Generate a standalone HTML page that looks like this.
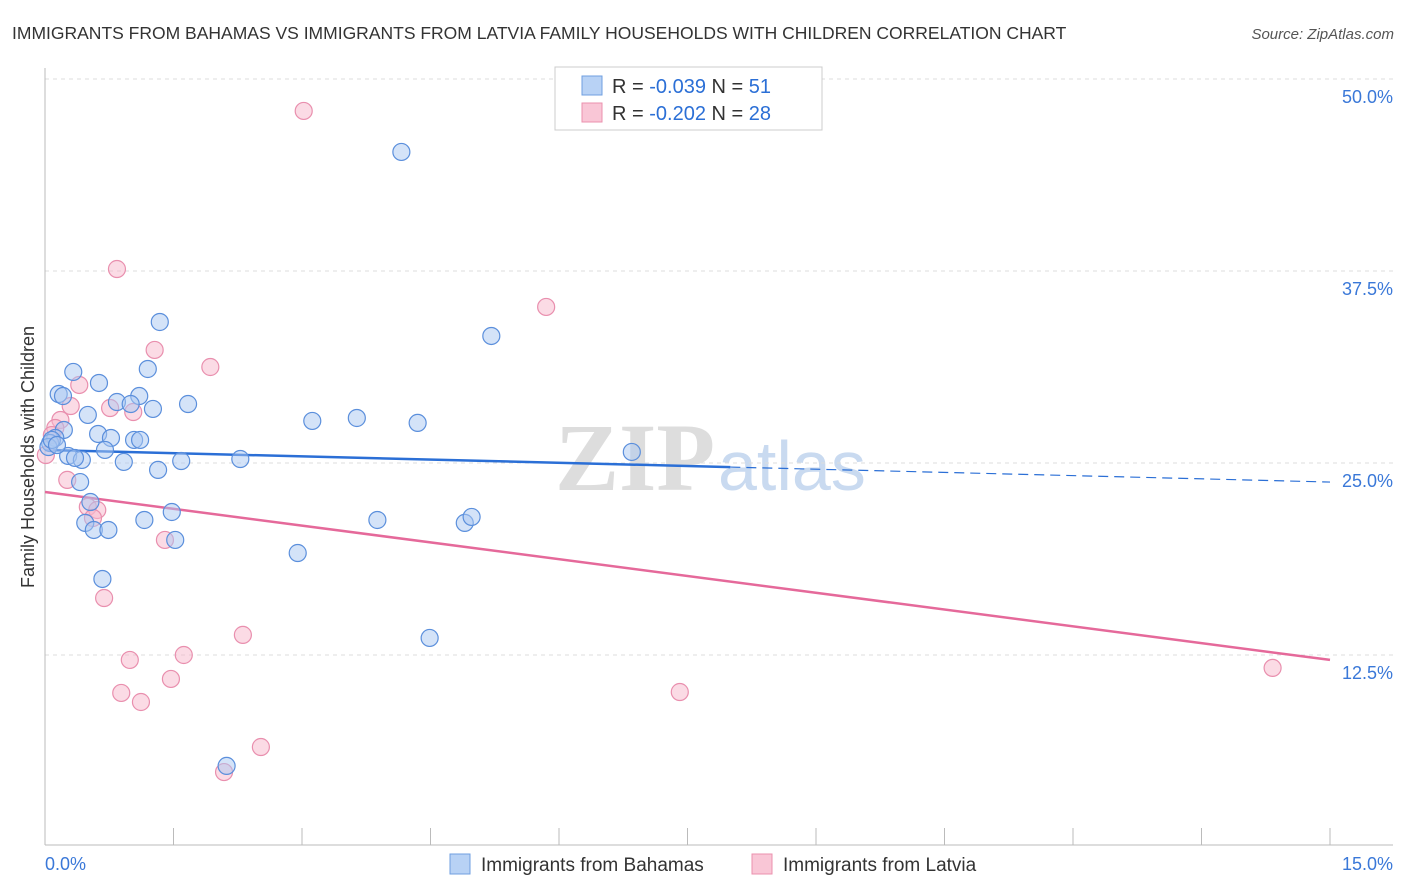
<!DOCTYPE html>
<html><head><meta charset="utf-8"><style>
body{margin:0;background:#fff;font-family:"Liberation Sans",sans-serif;}
svg{display:block}
</style></head><body>
<svg id="chart" width="1406" height="892" viewBox="0 0 1406 892" xmlns="http://www.w3.org/2000/svg">
<text x="12" y="39" font-size="17.5" fill="#333">IMMIGRANTS FROM BAHAMAS VS IMMIGRANTS FROM LATVIA FAMILY HOUSEHOLDS WITH CHILDREN CORRELATION CHART</text>
<text x="1394" y="39" font-size="15" fill="#555" text-anchor="end" font-style="italic">Source: ZipAtlas.com</text>
<g>
<text x="555" y="490" font-size="96" fill="#ddd" font-family="Liberation Serif,serif" font-weight="bold">ZIP</text>
<text x="718" y="490" font-size="70" fill="#c9daf0">atlas</text>
</g>
<g id="grid"></g>
<g id="axes"></g>
<g id="trends"></g>
<g id="points"></g>
<text transform="translate(34,457) rotate(-90)" font-size="18" fill="#333" text-anchor="middle">Family Households with Children</text>
<g>
<rect x="555" y="67" width="267" height="63" fill="#fff" stroke="#ccc"/>
<rect x="582" y="76" width="20" height="19" fill="#b8d2f5" stroke="#6f9fe0"/>
<rect x="582" y="103" width="20" height="19" fill="#f9c6d6" stroke="#eb90ae"/>
<text x="612" y="93" font-size="20" fill="#333">R = <tspan fill="#2b6fd6">-0.039</tspan>   N = <tspan fill="#2b6fd6"> 51</tspan></text>
<text x="612" y="120" font-size="20" fill="#333">R = <tspan fill="#2b6fd6">-0.202</tspan>   N = <tspan fill="#2b6fd6">28</tspan></text>
</g>
<g>
<rect x="450" y="854" width="20" height="20" fill="#b8d2f5" stroke="#6f9fe0"/>
<text x="481" y="871" font-size="19" fill="#333">Immigrants from Bahamas</text>
<rect x="752" y="854" width="20" height="20" fill="#f9c6d6" stroke="#eb90ae"/>
<text x="783" y="871" font-size="19" fill="#333">Immigrants from Latvia</text>
</g>
</svg>
<script>
const blueX=[4.16,5.21,1.34,0.33,1.20,0.63,0.16,0.21,0.84,1.10,1.00,1.26,1.67,0.50,3.12,3.64,4.35,0.22,0.62,0.77,1.04,1.11,0.12,0.06,0.04,0.27,0.43,0.70,0.92,1.32,1.59,2.28,6.85,0.41,0.53,0.47,1.16,1.48,0.57,0.74,1.52,3.88,4.90,4.98,2.95,0.67,4.49,2.12,0.08,0.14,0.35];
const blueY=[45.25,33.27,34.18,30.93,31.12,30.21,29.49,29.36,28.97,29.36,28.84,28.52,28.84,28.13,27.74,27.93,27.61,27.15,26.89,26.63,26.50,26.50,26.63,26.30,26.04,25.46,25.20,25.85,25.07,24.55,25.13,25.26,25.72,23.76,22.46,21.10,21.29,21.81,20.64,20.64,19.99,21.29,21.10,21.49,19.14,17.45,13.61,5.28,26.5,26.17,25.33];
const pinkX=[3.02,0.84,5.85,1.28,1.93,0.40,0.30,0.76,1.03,0.18,0.12,0.08,0.01,0.26,0.50,0.61,0.56,1.40,0.69,2.31,0.99,1.62,1.47,0.89,1.12,2.52,2.09,7.41,14.33];
const pinkY=[47.92,37.63,35.16,32.36,31.25,30.08,28.71,28.58,28.32,27.80,27.28,26.82,25.52,23.90,22.14,21.94,21.42,19.99,16.21,13.81,12.18,12.50,10.94,10.03,9.44,6.51,4.88,10.09,11.66];
const blueTrend=[25.85,23.76];
const pinkTrend=[23.11,12.18];
const yTicks=[50,37.5,25,12.5];
const yTickLabels=["50.0%","37.5%","25.0%","12.5%"];
const xTicks=[0,1.5,3,4.5,6,7.5,9,10.5,12,13.5,15];
const xs=v=>45+v/15*1285;
const ys=v=>79+(50-v)*15.36;
const NS="http://www.w3.org/2000/svg";
function mk(tag,attrs,parent){const e=document.createElementNS(NS,tag);for(const k in attrs)e.setAttribute(k,attrs[k]);parent.appendChild(e);return e;}
const grid=document.getElementById('grid'),axes=document.getElementById('axes'),tr=document.getElementById('trends'),pts=document.getElementById('points');
yTicks.forEach((t,i)=>{
 const l=mk('line',{x1:45,x2:1393,y1:ys(t),y2:ys(t),stroke:'#ddd','stroke-dasharray':'4 4'},grid);
 
 
 const tx=mk('text',{x:1393,y:ys(t)+24,'font-size':18,fill:'#3a78d8','text-anchor':'end'},axes);
 tx.textContent=yTickLabels[i];
 
 
});
const yl=mk('line',{x1:45,x2:45,y1:68,y2:845,stroke:'#bbb'},axes);


const xl=mk('line',{x1:45,x2:1393,y1:845,y2:845,stroke:'#bbb'},axes);


xTicks.forEach(t=>{
 const l=mk('line',{x1:xs(t),x2:xs(t),y1:828,y2:845,stroke:'#bbb'},axes);
 
 
});
const x0=mk('text',{x:45,y:870,'font-size':18,fill:'#3a78d8'},axes);x0.textContent='0.0%';


const x1=mk('text',{x:1393,y:870,'font-size':18,fill:'#3a78d8','text-anchor':'end'},axes);x1.textContent='15.0%';


function drawPts(X,Y,fill,stroke,name){X.forEach((x,i)=>{
 const c=mk('circle',{cx:xs(x),cy:ys(Y[i]),r:8.5,fill:fill,'fill-opacity':0.5,stroke:stroke,'stroke-width':1.2},pts);
 
 
});}
drawPts(pinkX,pinkY,'#f7b8cc','#e98fae','point-latvia');
drawPts(blueX,blueY,'#aac8f2','#5b8fdc','point-bahamas');
const bm=blueTrend[0]+(blueTrend[1]-blueTrend[0])*8/15;
const b1=mk('line',{x1:xs(0),y1:ys(blueTrend[0]),x2:xs(8),y2:ys(bm),stroke:'#2b6fd6','stroke-width':2.5},tr);


const b2=mk('line',{x1:xs(8),y1:ys(bm),x2:xs(15),y2:ys(blueTrend[1]),stroke:'#2b6fd6','stroke-width':1.2,'stroke-dasharray':'10 6'},tr);


const p1=mk('line',{x1:xs(0),y1:ys(pinkTrend[0]),x2:xs(15),y2:ys(pinkTrend[1]),stroke:'#e5699a','stroke-width':2.5},tr);


</script>
</body></html>
